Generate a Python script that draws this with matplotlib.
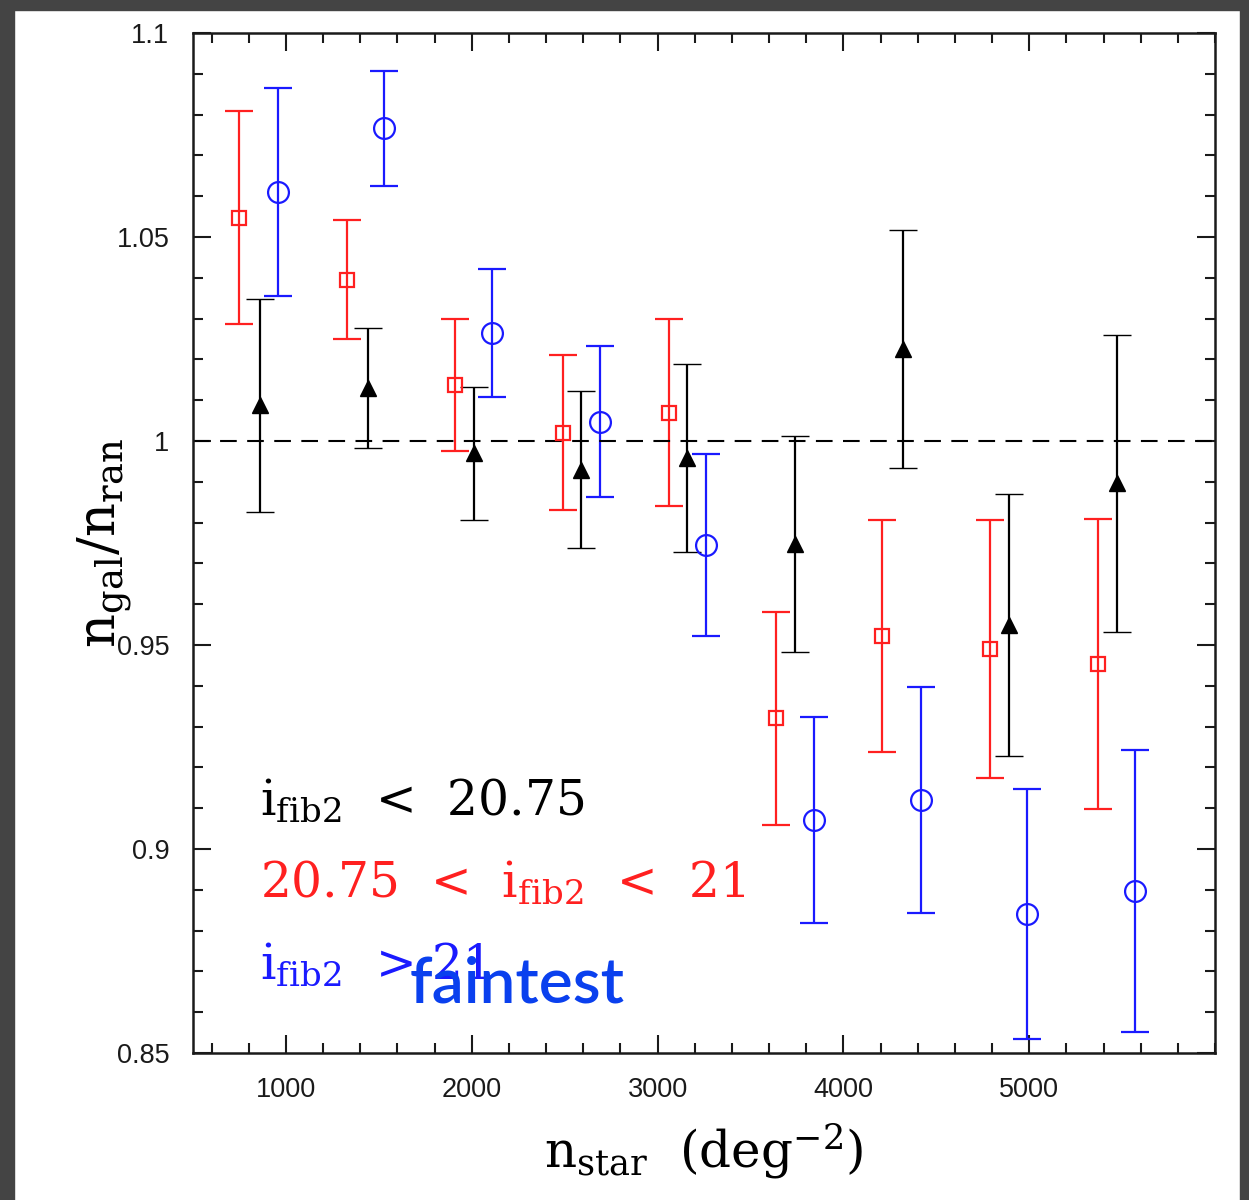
import numpy as np
import matplotlib
matplotlib.use("Agg")
import matplotlib.pyplot as plt
from matplotlib.patches import Rectangle
from matplotlib.ticker import MultipleLocator

plt.rcParams['mathtext.fontset'] = 'dejavuserif'

# bright  i_fib2 < 20.75
x_bright = [860, 1440, 2010, 2590, 3160, 3740, 4320, 4890, 5470]
y_bright = [1.0088, 1.0130, 0.9970, 0.9930, 0.9958, 0.9748, 1.0225, 0.9549, 0.9897]
e_bright = [0.0261, 0.0147, 0.0163, 0.0192, 0.0230, 0.0265, 0.0292, 0.0322, 0.0364]

# mid  20.75 < i_fib2 < 21
x_mid = [750, 1330, 1910, 2490, 3060, 3640, 4210, 4790, 5370]
y_mid = [1.0547, 1.0395, 1.0137, 1.0020, 1.0069, 0.9321, 0.9522, 0.9490, 0.9453]
e_mid = [0.0261, 0.0146, 0.0161, 0.0190, 0.0229, 0.0261, 0.0284, 0.0317, 0.0355]

# faint  i_fib2 > 21
x_faint = [960, 1530, 2110, 2690, 3260, 3840, 4420, 4990, 5570]
y_faint = [1.0610, 1.0767, 1.0265, 1.0047, 0.9745, 0.9071, 0.9120, 0.8841, 0.8897]
e_faint = [0.0254, 0.0141, 0.0157, 0.0185, 0.0222, 0.0252, 0.0276, 0.0306, 0.0345]

fig = plt.figure(figsize=(12.49, 12.0), dpi=100)
ax = fig.add_axes([0.1545, 0.1225, 0.8183, 0.85])

ekw = dict(linestyle='none', elinewidth=1.6, capsize=10, capthick=1.6)
ax.errorbar(x_mid, y_mid, yerr=e_mid, color='#ff2020', marker='s', ms=10,
            mfc='none', mew=1.6, **ekw)
ax.errorbar(x_bright, y_bright, yerr=e_bright, color='black', marker='^', ms=11,
            mew=1.0, **ekw)
ax.errorbar(x_faint, y_faint, yerr=e_faint, color='#1a1aff', marker='o', ms=15,
            mfc='none', mew=1.6, **ekw)

ax.axhline(1.0, color='black', lw=1.5, dashes=(8, 5))

ax.set_xlim(500, 6000)
ax.set_ylim(0.85, 1.1)
ax.xaxis.set_minor_locator(MultipleLocator(200))
ax.yaxis.set_minor_locator(MultipleLocator(0.01))
ax.set_xticks([1000, 2000, 3000, 4000, 5000])
ax.set_xticklabels(['1000', '2000', '3000', '4000', '5000'])
ax.set_yticks([0.85, 0.9, 0.95, 1.0, 1.05, 1.1])
ax.set_yticklabels(['0.85', '0.9', '0.95', '1', '1.05', '1.1'])
ax.tick_params(which='both', direction='in', top=True, right=True, width=1.5,
               labelsize=19.5, colors='#1a1a1a')
ax.tick_params(which='major', length=13)
ax.tick_params(which='minor', length=7)
ax.tick_params(axis='x', which='major', pad=17)
ax.tick_params(axis='y', which='major', pad=17)
for lab in ax.get_xticklabels() + ax.get_yticklabels():
    lab.set_family('Liberation Sans')
for sp in ax.spines.values():
    sp.set_linewidth(1.8)
    sp.set_color('#1a1a1a')

ax.set_xlabel(r'n$_{\rm star}$  (deg$^{-2}$)', family='DejaVu Serif', fontsize=36)
ax.xaxis.set_label_coords(0.5, -0.067)
ax.xaxis.label.set_va('top')
ax.set_ylabel(r'n$_{\rm gal}$/n$_{\rm ran}$', family='DejaVu Serif', fontsize=38)
ax.yaxis.set_label_coords(-0.058, 0.5)

tkw = dict(transform=ax.transData, family='DejaVu Serif', fontsize=35)
ax.text(860, 0.9085, r'i$_{\rm fib2}$  <  20.75', color='black', **tkw)
ax.text(860, 0.8884, r'20.75  <  i$_{\rm fib2}$  <  21', color='#ff2020', **tkw)
ax.text(860, 0.8683, r'i$_{\rm fib2}$  > 21', color='#1a1aff', **tkw)
ax.text(1665, 0.8623, 'faintest', color='#0a40ee', family='Lato',
        weight='semibold', fontsize=46)

# dark frame around the page
frame = '#444444'
fig.patches.append(Rectangle((0, 1 - 10 / 1200), 1, 10 / 1200, transform=fig.transFigure,
                             color=frame, zorder=10))
fig.patches.append(Rectangle((0, 0), 14 / 1249, 1, transform=fig.transFigure,
                             color=frame, zorder=10))
fig.patches.append(Rectangle((1 - 9 / 1249, 0), 9 / 1249, 1, transform=fig.transFigure,
                             color=frame, zorder=10))

fig.savefig('out.png', dpi=100, facecolor='white')
